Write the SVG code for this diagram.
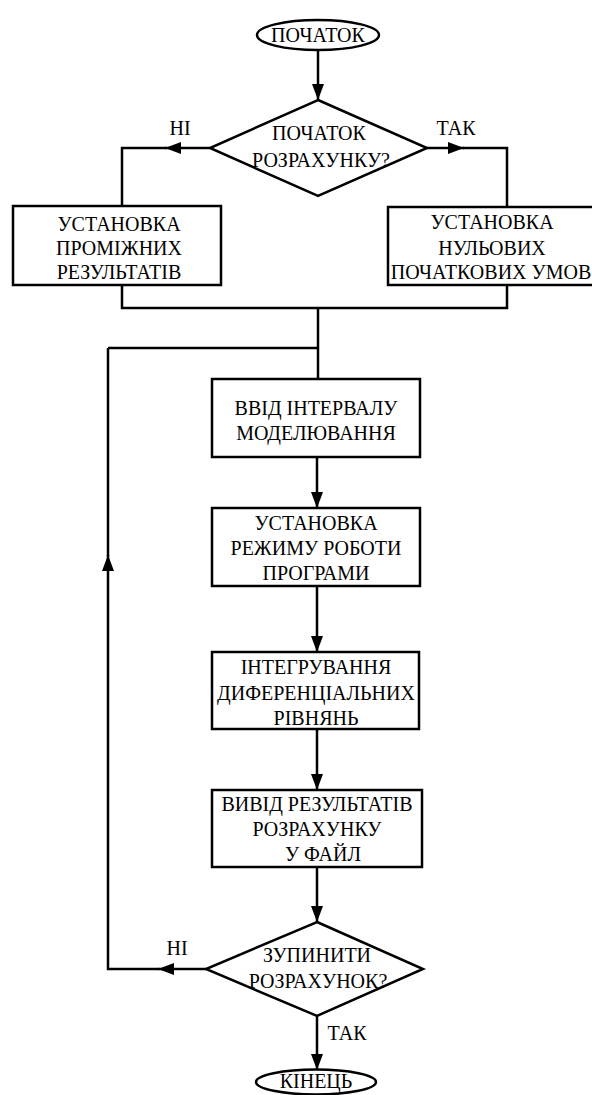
<svg xmlns="http://www.w3.org/2000/svg" width="592" height="1095" viewBox="0 0 592 1095">
<style>
.shape{fill:#fff;stroke:#000;stroke-width:2.5}
.ln{fill:none;stroke:#000;stroke-width:2.5}
.t{font-family:'Liberation Serif',serif;font-size:20px;fill:#000;text-anchor:middle}
</style>
<defs>
<marker id="ah" markerUnits="userSpaceOnUse" markerWidth="17" markerHeight="13" refX="16" refY="6" orient="auto">
<path d="M0,0 L16,6 L0,12 z" fill="#000"/>
</marker>
</defs>
<rect width="592" height="1095" fill="#fff"/>
<g id="connectors">
<path class="ln" d="M318,50 V100" marker-end="url(#ah)"/>
<path class="ln" d="M210,148 H165" marker-end="url(#ah)"/>
<path class="ln" d="M166,148 H122 V206"/>
<path class="ln" d="M427,148 H464" marker-end="url(#ah)"/>
<path class="ln" d="M463,148 H507 V207"/>
<path class="ln" d="M122,285 V308 H507 V285"/>
<path class="ln" d="M318,308 V379"/>
<path class="ln" d="M108,348 H318"/>
<path class="ln" d="M317,457 V508" marker-end="url(#ah)"/>
<path class="ln" d="M317,586 V652" marker-end="url(#ah)"/>
<path class="ln" d="M317,729 V790" marker-end="url(#ah)"/>
<path class="ln" d="M317,867 V922" marker-end="url(#ah)"/>
<path class="ln" d="M317,1016 V1070" marker-end="url(#ah)"/>
<path class="ln" d="M206,969 H158" marker-end="url(#ah)"/>
<path class="ln" d="M159,969 H108 V555" marker-end="url(#ah)"/>
<path class="ln" d="M108,556 V348"/>
<text class="t" x="180" y="135">НІ</text>
<text class="t" x="456" y="135">ТАК</text>
<text class="t" x="177" y="955">НІ</text>
<text class="t" x="347" y="1040">ТАК</text>
</g>
<g id="start">
<ellipse class="shape" cx="318" cy="35" rx="61" ry="15"/>
<text class="t" x="318" y="42">ПОЧАТОК</text>
</g>
<g id="decision1">
<polygon class="shape" points="318,100 427,148 318,196 210,148"/>
<text class="t" x="319" y="140">ПОЧАТОК</text>
<text class="t" x="321" y="167">РОЗРАХУНКУ?</text>
</g>
<g id="intermediate">
<rect class="shape" x="13" y="206" width="208" height="79"/>
<text class="t" x="119" y="231">УСТАНОВКА</text>
<text class="t" x="119" y="255">ПРОМІЖНИХ</text>
<text class="t" x="119" y="279">РЕЗУЛЬТАТІВ</text>
</g>
<g id="zero">
<rect class="shape" x="388" y="207" width="214" height="78"/>
<text class="t" x="492" y="229">УСТАНОВКА</text>
<text class="t" x="492" y="255">НУЛЬОВИХ</text>
<text class="t" x="491" y="279">ПОЧАТКОВИХ УМОВ</text>
</g>
<g id="interval">
<rect class="shape" x="212" y="379" width="208" height="78"/>
<text class="t" x="316" y="415">ВВІД ІНТЕРВАЛУ</text>
<text class="t" x="316" y="440">МОДЕЛЮВАННЯ</text>
</g>
<g id="mode">
<rect class="shape" x="212" y="508" width="208" height="78"/>
<text class="t" x="316" y="530">УСТАНОВКА</text>
<text class="t" x="316" y="555">РЕЖИМУ РОБОТИ</text>
<text class="t" x="316" y="580">ПРОГРАМИ</text>
</g>
<g id="integrate">
<rect class="shape" x="212" y="652" width="207" height="77"/>
<text class="t" x="316" y="674">ІНТЕГРУВАННЯ</text>
<text class="t" x="316" y="700">ДИФЕРЕНЦІАЛЬНИХ</text>
<text class="t" x="316" y="725">РІВНЯНЬ</text>
</g>
<g id="output">
<rect class="shape" x="212" y="790" width="210" height="77"/>
<text class="t" x="317" y="811">ВИВІД РЕЗУЛЬТАТІВ</text>
<text class="t" x="317" y="836">РОЗРАХУНКУ</text>
<text class="t" x="323" y="861">У ФАЙЛ</text>
</g>
<g id="decision2">
<polygon class="shape" points="317,922 423,969 317,1016 206,969"/>
<text class="t" x="317" y="962">ЗУПИНИТИ</text>
<text class="t" x="318" y="988">РОЗРАХУНОК?</text>
</g>
<g id="end">
<ellipse class="shape" cx="316" cy="1082" rx="60" ry="12.5"/>
<text class="t" x="316" y="1088">КІНЕЦЬ</text>
</g>
</svg>
